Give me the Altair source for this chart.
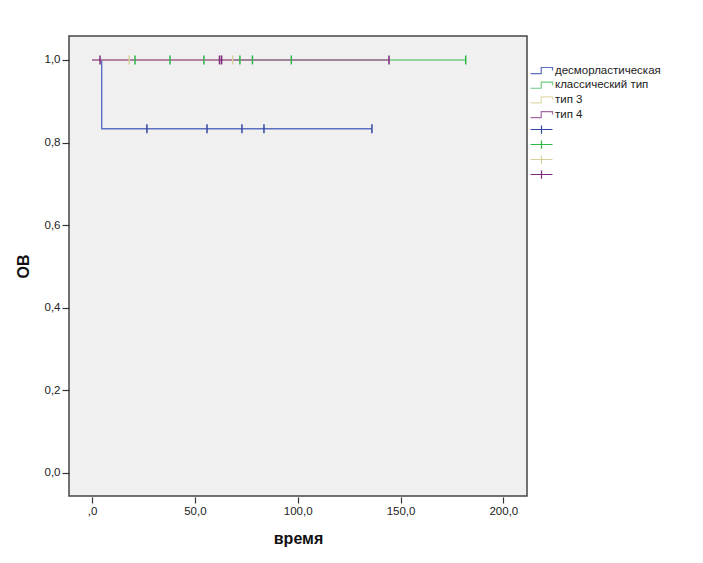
import altair as alt
import pandas as pd

# ---- data ----
series = ["десморластическая", "классический тип", "тип 3", "тип 4"]
censor_keys = [s + " (цензур.)" for s in series]

# step curves (time, survival) per series
desmo_t = [0, 4.7, 136.1]
desmo_s = [1.0, 0.8333, 0.8333]
classic_t = [0, 181.7]
classic_s = [1.0, 1.0]
t3_t = [0, 68.4]
t3_s = [1.0, 1.0]
t4_t = [0, 144.4]
t4_s = [1.0, 1.0]

# censored observations
desmo_c = [26.7, 55.9, 72.9, 83.6, 136.1]
desmo_c_s = 0.8333
classic_c = [20.9, 37.9, 54.4, 71.9, 78.0, 96.9, 181.7]
t3_c = [18.1, 68.4]
t4_c = [3.9, 62.0, 63.0, 144.4]

line_colors = ["#5c6fc0", "#72cc82", "#e2dcb0", "#a8679f"]
tick_colors = ["#33479e", "#2eb848", "#d8d19c", "#7c287d"]

x_ticks = [0, 50, 100, 150, 200]
y_ticks = [0.0, 0.2, 0.4, 0.6, 0.8, 1.0]

# ---- tables ----
rows = []
for key, ts, ss in zip(series, [desmo_t, classic_t, t3_t, t4_t], [desmo_s, classic_s, t3_s, t4_s]):
    for i, (t, s) in enumerate(zip(ts, ss)):
        rows.append({"key": key, "t": t, "s": s, "o": i})
lines_df = pd.DataFrame(rows)

crow = []
for key, ts, s in zip(censor_keys, [desmo_c, classic_c, t3_c, t4_c], [desmo_c_s, 1.0, 1.0, 1.0]):
    for t in ts:
        crow.append({"key": key, "t": t, "s": s})
cens_df = pd.DataFrame(crow)

legA_df = pd.DataFrame({"key": series, "t": [0] * 4, "s": [1.0] * 4})
legB_df = pd.DataFrame({"key": censor_keys, "t": [0] * 4, "s": [1.0] * 4})

step_path = "M-2,0.55H-0.05V-0.55H2V0"
cross_path = "M-2,0H2M0,-0.75V0.75"

all_keys = series + censor_keys
color_all = alt.Scale(domain=all_keys, range=line_colors + tick_colors)

x_scale = alt.Scale(domain=[-11.2, 211.5], nice=False, zero=False)
y_scale = alt.Scale(domain=[-0.0557, 1.058], nice=False, zero=False)

x_enc = alt.X(
    "t:Q", scale=x_scale, title="время",
    axis=alt.Axis(
        values=x_ticks,
        labelExpr="datum.value == 0 ? ',0' : replace(format(datum.value, '.1f'), '.', ',')",
        grid=False, domain=False, offset=1, tickSize=6, labelPadding=2,
        titlePadding=14,
    ),
)
y_enc = alt.Y(
    "s:Q", scale=y_scale, title="ОВ",
    axis=alt.Axis(
        values=y_ticks,
        labelExpr="replace(format(datum.value, '.1f'), '.', ',')",
        grid=False, domain=False, tickSize=7, labelPadding=2,
        titlePadding=13,
    ),
)

leg_common = dict(
    title=None, orient="none", padding=0,
    symbolSize=121, symbolStrokeWidth=1.2, labelOffset=7,
    labelFont="Liberation Sans", labelFontSize=11.5, labelColor="#222",
    symbolFillColor="transparent", symbolOpacity=1,
)
legA = alt.Legend(legendX=466, legendY=28, rowPadding=2.7, **leg_common)
legB = alt.Legend(legendX=466, legendY=87, rowPadding=0,
                  labelExpr="' '", **leg_common)

lines = alt.Chart(lines_df).mark_line(interpolate="step-after", strokeWidth=1.4).encode(
    x=x_enc, y=y_enc,
    color=alt.Color("key:N", scale=color_all, legend=None),
    order="o:Q",
)

ticks = alt.Chart(cens_df).mark_point(shape="M0,-1V1", size=81, filled=False, strokeWidth=1.5, opacity=1).encode(
    x=x_enc, y=y_enc,
    color=alt.Color("key:N", scale=color_all, legend=None),
)

legend_a = alt.Chart(legA_df).mark_point(filled=False, opacity=0).encode(
    x=x_enc, y=y_enc,
    color=alt.Color("key:N", scale=alt.Scale(domain=series, range=line_colors), legend=legA),
    shape=alt.Shape("key:N", scale=alt.Scale(domain=series, range=[step_path] * 4), legend=legA),
)

legend_b = alt.Chart(legB_df).mark_point(filled=False, opacity=0).encode(
    x=x_enc, y=y_enc,
    color=alt.Color("key:N", scale=alt.Scale(domain=censor_keys, range=tick_colors), legend=legB),
    shape=alt.Shape("key:N", scale=alt.Scale(domain=censor_keys, range=[cross_path] * 4), legend=legB),
)

chart = alt.layer(lines, ticks, legend_a, legend_b).resolve_scale(
    color="independent", shape="independent"
).properties(
    width=458, height=460,
    autosize=alt.AutoSizeParams(type="none"),
    padding={"left": 61, "top": 28, "right": 160, "bottom": 55},
).configure_view(
    fill="#f0f0f0", stroke="#444444", strokeWidth=1.5,
).configure_axis(
    labelFont="Liberation Sans", labelFontSize=11.5, labelColor="#222222",
    tickColor="#333333", tickWidth=1.2,
    titleFont="Liberation Sans", titleFontSize=16, titleFontWeight="bold", titleColor="#111111",
)

chart.save("out.html", embed_options={"renderer": "svg", "actions": False})
